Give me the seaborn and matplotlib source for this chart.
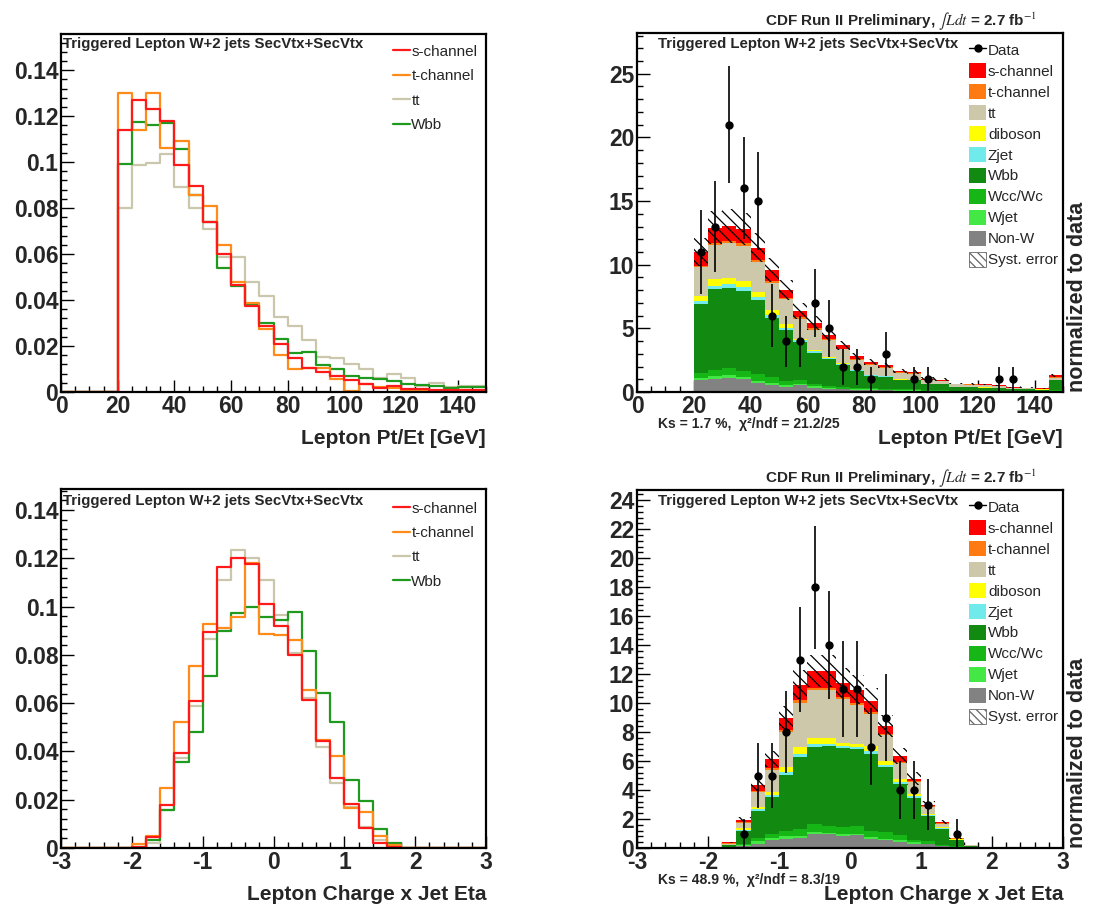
"""
Lepton Pt/Et and Lepton Charge x Jet Eta: shapes (left) and stacked
prediction vs data (right), CDF W+2 jets double-tag sample.
"""

import numpy as np
import pandas as pd
import seaborn as sns
import matplotlib.pyplot as plt
from matplotlib.lines import Line2D
from matplotlib.patches import Patch
from matplotlib.ticker import MultipleLocator, FuncFormatter

OUTPUT_PNG = "out.png"

# ---------------------------
# Shape templates, Lepton Pt/Et (5 GeV bins, 0-150)
# ---------------------------
pt_edges = np.arange(0, 151, 5)
pt_schan = [0, 0, 0, 0, 0.114, 0.127, 0.123, 0.118, 0.0987, 0.0898, 0.0738, 0.0601,
            0.0467, 0.0373, 0.0289, 0.0207, 0.0148, 0.0106, 0.0087, 0.0071, 0.0054,
            0.0036, 0.0016, 0.0025, 0.0015, 0.0013, 0.0009, 0.0009, 0.0007, 0.0009]
pt_tchan = [0, 0, 0, 0, 0.130, 0.114, 0.130, 0.106, 0.109, 0.0857, 0.081, 0.064,
            0.048, 0.0387, 0.0276, 0.016, 0.0099, 0.0104, 0.0106, 0.0058, 0.0004,
            0.0033, 0.0022, 0.0017, 0.001, 0.001, 0.0004, 0.0004, 0.0007, 0.0004]
pt_tt = [0, 0, 0, 0, 0.080, 0.0988, 0.0994, 0.1034, 0.0892, 0.080, 0.0708, 0.0588,
         0.0588, 0.0477, 0.0419, 0.0325, 0.0287, 0.0225, 0.0154, 0.0148, 0.0123,
         0.0102, 0.0062, 0.0077, 0.0062, 0.0028, 0.0041, 0.0023, 0.0025, 0.0028]
pt_wbb = [0, 0, 0, 0, 0.0992, 0.1175, 0.1163, 0.117, 0.1056, 0.0857, 0.0738, 0.0541,
          0.0463, 0.0377, 0.0302, 0.0231, 0.0168, 0.0176, 0.0119, 0.0099, 0.007,
          0.0059, 0.0055, 0.0048, 0.0033, 0.0029, 0.0026, 0.0019, 0.002, 0.0022]

# ---------------------------
# Shape templates, Lepton Charge x Jet Eta (0.2 bins, -3..3)
# ---------------------------
eta_edges = np.linspace(-3, 3, 31)
eta_schan = [0, 0, 0, 0, 0, 0.0005, 0.0046, 0.0177, 0.0395, 0.061, 0.0893, 0.1166,
             0.120, 0.1177, 0.101, 0.0918, 0.080, 0.0612, 0.0445, 0.029, 0.0184,
             0.0083, 0.0022, 0.0006, 0, 0, 0, 0, 0, 0]
eta_tchan = [0, 0, 0, 0, 0, 0.0015, 0.0048, 0.0249, 0.0522, 0.0752, 0.0927, 0.091,
             0.0958, 0.1182, 0.0886, 0.0882, 0.086, 0.0654, 0.0446, 0.038, 0.0164,
             0.0151, 0.005, 0.0011, 0, 0, 0, 0, 0, 0]
eta_tt = [0, 0, 0, 0, 0, 0.0004, 0.0022, 0.0156, 0.0375, 0.059, 0.0867, 0.111,
          0.1234, 0.120, 0.111, 0.0966, 0.0806, 0.0623, 0.0419, 0.0269, 0.017,
          0.0087, 0.0032, 0.0008, 0, 0, 0, 0, 0, 0]
eta_wbb = [0, 0, 0, 0, 0, 0, 0.0032, 0.0159, 0.0355, 0.048, 0.0713, 0.0898,
           0.0973, 0.100, 0.0955, 0.0943, 0.0977, 0.0817, 0.0643, 0.0521, 0.0281,
           0.0196, 0.0079, 0.0021, 0, 0, 0, 0, 0, 0]

# ---------------------------
# Stacked prediction, Lepton Pt/Et (5 GeV bins, 20-150)
# ---------------------------
pt_stack_edges = np.arange(20, 151, 5)
pt_nonw = [0.92, 1.00, 1.10, 1.00, 0.68, 0.58, 0.39, 0.52, 0.34, 0.24, 0.21, 0.18, 0.16,
           0.13, 0.10, 0.10, 0.07, 0.06, 0.04, 0.04, 0.03, 0.03, 0.02, 0.02, 0.02, 0.06]
pt_wjet = [0.18, 0.23, 0.21, 0.18, 0.21, 0.13, 0.13, 0.14, 0.11, 0.07, 0.05, 0.04, 0.04,
           0.03, 0.02, 0.02, 0.02, 0.02, 0.01, 0.01, 0.01, 0.01, 0.01, 0.01, 0.01, 0.02]
pt_wcc = [0.40, 0.47, 0.58, 0.45, 0.53, 0.47, 0.35, 0.31, 0.21, 0.16, 0.13, 0.12, 0.11,
          0.10, 0.08, 0.08, 0.06, 0.05, 0.04, 0.04, 0.03, 0.03, 0.02, 0.02, 0.02, 0.08]
pt_wbb_n = [5.40, 6.38, 6.31, 6.32, 5.79, 4.67, 3.98, 2.96, 2.44, 2.10, 1.76, 1.29, 0.95,
            0.92, 0.72, 0.72, 0.45, 0.47, 0.30, 0.30, 0.27, 0.24, 0.19, 0.17, 0.13, 0.76]
pt_zjet = [0.23, 0.26, 0.27, 0.26, 0.27, 0.18, 0.19, 0.14, 0.10, 0.11, 0.08, 0.07, 0.05,
           0.05, 0.04, 0.03, 0.02, 0.02, 0.01, 0.01, 0.01, 0.01, 0.01, 0.01, 0.01, 0.02]
pt_dib = [0.42, 0.53, 0.50, 0.50, 0.39, 0.40, 0.29, 0.10, 0.08, 0.10, 0.08, 0.06, 0.05,
          0.06, 0.06, 0.03, 0.02, 0.02, 0.01, 0.01, 0.01, 0.01, 0.01, 0.01, 0.01, 0.02]
pt_tt_n = [2.25, 2.67, 2.70, 2.75, 2.31, 2.15, 1.94, 1.60, 1.62, 1.29, 1.05, 0.78, 0.79,
           0.62, 0.50, 0.46, 0.28, 0.23, 0.19, 0.17, 0.16, 0.14, 0.08, 0.06, 0.05, 0.17]
pt_tch_n = [0.10, 0.19, 0.19, 0.21, 0.18, 0.13, 0.13, 0.13, 0.10, 0.07, 0.05, 0.06, 0.05,
            0.06, 0.04, 0.04, 0.03, 0.03, 0.02, 0.02, 0.02, 0.02, 0.01, 0.01, 0.01, 0.02]
pt_sch_n = [1.07, 1.17, 1.18, 1.13, 0.97, 0.86, 0.60, 0.47, 0.43, 0.32, 0.26, 0.21, 0.16,
            0.13, 0.09, 0.09, 0.10, 0.07, 0.04, 0.05, 0.06, 0.03, 0.04, 0.03, 0.03, 0.16]
pt_data = [11, 13, 21, 16, 15, 6, 4, 4, 7, 5, 2, 2, 1, 3, 0, 1, 1, 0, 0, 0, 0, 1, 1, 0, 0, 0]
pt_syst = 0.10

# ---------------------------
# Stacked prediction, Lepton Charge x Jet Eta (0.2 bins, -1.8..2.0)
# ---------------------------
eta_stack_edges = np.linspace(-1.8, 2.0, 20)
eta_nonw = [0.05, 0.14, 0.30, 0.58, 0.64, 0.71, 0.99, 0.94, 0.81, 0.87, 0.64, 0.53, 0.41,
            0.30, 0.25, 0.14, 0.05, 0.02, 0.01]
eta_wjet = [0.01, 0.04, 0.16, 0.11, 0.17, 0.12, 0.11, 0.12, 0.13, 0.12, 0.12, 0.11, 0.12,
            0.09, 0.05, 0.03, 0.02, 0.01, 0.0]
eta_wcc = [0.03, 0.12, 0.23, 0.30, 0.34, 0.50, 0.53, 0.46, 0.51, 0.51, 0.41, 0.46, 0.34,
           0.19, 0.16, 0.06, 0.05, 0.02, 0.0]
eta_wbb_n = [0.12, 0.87, 1.86, 2.53, 3.91, 4.95, 5.34, 5.50, 5.48, 5.36, 5.34, 4.49, 3.57,
             2.89, 1.73, 1.10, 0.41, 0.10, 0.02]
eta_zjet = [0.01, 0.10, 0.12, 0.16, 0.19, 0.23, 0.19, 0.14, 0.11, 0.11, 0.16, 0.16, 0.12,
            0.10, 0.06, 0.07, 0.03, 0.01, 0.0]
eta_dib = [0.01, 0.11, 0.16, 0.19, 0.34, 0.46, 0.43, 0.43, 0.23, 0.23, 0.35, 0.23, 0.18,
           0.13, 0.07, 0.05, 0.03, 0.01, 0.0]
eta_tt_n = [0.08, 0.37, 1.04, 1.54, 2.42, 3.06, 3.29, 3.29, 2.99, 2.69, 2.21, 1.80, 1.13,
            0.86, 0.51, 0.23, 0.05, 0.02, 0.01]
eta_tch_n = [0.02, 0.05, 0.06, 0.09, 0.11, 0.16, 0.19, 0.16, 0.16, 0.14, 0.16, 0.11, 0.07,
             0.06, 0.05, 0.05, 0.02, 0.01, 0.0]
eta_sch_n = [0.08, 0.16, 0.40, 0.67, 0.85, 1.08, 1.15, 1.18, 0.97, 0.90, 0.76, 0.51, 0.41,
             0.17, 0.11, 0.06, 0.04, 0.01, 0.0]
eta_data = [0, 1, 5, 5, 8, 13, 18, 14, 11, 11, 7, 9, 4, 4, 3, 0, 1, 0, 0]
eta_syst = 0.09

# ---------------------------
# Colours
# ---------------------------
LINE_COLORS = {"s-channel": "#ff1a1a", "t-channel": "#ff8c1a",
               "tt": "#cbc7ad", "Wbb": "#1f9a1f"}
STACK_COLORS = {"s-channel": "#ff0000", "t-channel": "#ff7a10", "tt": "#cdc8aa",
                "diboson": "#ffff00", "Zjet": "#70eaea", "Wbb": "#128a12",
                "Wcc/Wc": "#16b616", "Wjet": "#44e844", "Non-W": "#828282"}
# top of the stack first (seaborn stacks the last hue level at the bottom)
STACK_ORDER = ["s-channel", "t-channel", "tt", "diboson", "Zjet",
               "Wbb", "Wcc/Wc", "Wjet", "Non-W"]

TITLE = "Triggered Lepton W+2 jets SecVtx+SecVtx"
CDF = r"CDF Run II Preliminary, $\int\mathit{Ldt}$ = 2.7 fb$^{-1}$"

sns.set_theme(style="white")
plt.rcParams["font.family"] = ["Liberation Sans", "DejaVu Sans"]
plt.rcParams["mathtext.fontset"] = "stix"
plt.rcParams["hatch.linewidth"] = 0.9
plt.rcParams["hatch.color"] = "black"

fig = plt.figure(figsize=(10.94, 9.07), dpi=100)
ax_tl = fig.add_axes([0.0558, 0.5678, 0.3885, 0.3947])
ax_tr = fig.add_axes([0.5823, 0.5678, 0.3894, 0.3958])
ax_bl = fig.add_axes([0.0558, 0.0650, 0.3885, 0.3958])
ax_br = fig.add_axes([0.5823, 0.0650, 0.3894, 0.3947])

fmt = FuncFormatter(lambda v, p: "%g" % round(v, 6))


def style(ax, xlim, ylim, xmaj, xmin, ymaj, ymin, xlabel):
    ax.set_xlim(*xlim)
    ax.set_ylim(*ylim)
    ax.xaxis.set_major_locator(MultipleLocator(xmaj))
    ax.xaxis.set_minor_locator(MultipleLocator(xmin))
    ax.yaxis.set_major_locator(MultipleLocator(ymaj))
    ax.yaxis.set_minor_locator(MultipleLocator(ymin))
    ax.xaxis.set_major_formatter(fmt)
    ax.yaxis.set_major_formatter(fmt)
    ax.tick_params(which="both", direction="in", top=False, right=False,
                   bottom=True, left=True, color="black")
    ax.tick_params(which="major", length=9, width=1, labelsize=16.5, pad=2)
    ax.tick_params(which="minor", length=4.5, width=1)
    for lab in ax.get_xticklabels() + ax.get_yticklabels():
        lab.set_fontweight("bold")
    for sp in ax.spines.values():
        sp.set_color("black")
        sp.set_linewidth(1.6)
    ax.set_ylabel("")
    ax.set_xlabel(xlabel, loc="right", fontsize=15, fontweight="bold",
                  labelpad=8)


def shapes(ax, edges, curves, leg_top):
    centers = 0.5 * (edges[:-1] + edges[1:])
    for name in ["tt", "Wbb", "t-channel", "s-channel"]:
        d = pd.DataFrame({"x": centers, "w": curves[name]})
        sns.histplot(data=d, x="x", weights="w", bins=list(edges), element="step",
                     fill=False, color=LINE_COLORS[name], linewidth=1.6, ax=ax)
    ax.text(0.005, leg_top - 0.008, TITLE, transform=ax.transAxes, fontsize=10.8,
            fontweight="bold", va="center", ha="left")
    handles = [Line2D([0], [0], color=LINE_COLORS[n], lw=1.6)
               for n in ["s-channel", "t-channel", "tt", "Wbb"]]
    ax.legend(handles, ["s-channel", "t-channel", "tt", "Wbb"], loc="upper left",
              bbox_to_anchor=(0.781, leg_top - 0.01), frameon=False, fontsize=11,
              handlelength=1.1, handletextpad=0.1, labelspacing=0.68,
              borderaxespad=0, borderpad=0)


def stack(ax, edges, comps, data, syst, ks_text):
    centers = 0.5 * (edges[:-1] + edges[1:])
    width = edges[1] - edges[0]
    df = pd.DataFrame({
        "x": np.tile(centers, len(STACK_ORDER)),
        "w": np.concatenate([comps[n] for n in STACK_ORDER]),
        "process": np.repeat(STACK_ORDER, len(centers)),
    })
    sns.histplot(data=df, x="x", weights="w", hue="process", hue_order=STACK_ORDER,
                 palette=STACK_COLORS, multiple="stack", bins=list(edges),
                 element="step", fill=True, alpha=1, linewidth=0, legend=False, ax=ax)
    total = np.sum([comps[n] for n in STACK_ORDER], axis=0)
    ax.bar(centers, 2 * syst * total, width=width, bottom=total * (1 - syst),
           fill=False, hatch="\\\\\\", edgecolor="black", linewidth=0, zorder=3)
    data = np.asarray(data, dtype=float)
    m = data > 0
    ax.errorbar(centers[m], data[m], yerr=np.sqrt(data[m]), fmt="o", color="black",
                ms=5, elinewidth=1.2, capsize=0, zorder=4)

    ax.text(0.049, 0.969, TITLE, transform=ax.transAxes, fontsize=10.8,
            fontweight="bold", va="center", ha="left")
    ax.text(0.939, 1.03, CDF, transform=ax.transAxes, fontsize=11,
            fontweight="bold", va="center", ha="right")
    ax.text(0.049, -0.09, ks_text, transform=ax.transAxes, fontsize=10,
            fontweight="bold", va="center", ha="left")
    ax.text(1.035, 0.0, "normalized to data", transform=ax.transAxes, rotation=90,
            fontsize=15.5, fontweight="bold", va="bottom", ha="center")

    legend_names = ["s-channel", "t-channel", "tt", "diboson", "Zjet",
                    "Wbb", "Wcc/Wc", "Wjet", "Non-W"]
    handles = [Line2D([0], [0], color="black", marker="o", ms=5, lw=1)]
    handles += [Patch(facecolor=STACK_COLORS[n], edgecolor="none") for n in legend_names]
    handles += [Patch(facecolor="white", edgecolor="#666666", hatch="\\\\\\\\", lw=0.6)]
    labels = ["Data"] + legend_names + ["Syst. error"]
    ax.legend(handles, labels, loc="upper left", bbox_to_anchor=(0.779, 0.975),
              frameon=False, fontsize=11, handlelength=1.15, handleheight=1.15,
              handletextpad=0.1, labelspacing=0.34, borderaxespad=0, borderpad=0)


# ---------------------------
# Left: normalised shapes
# ---------------------------
shapes(ax_tl, pt_edges, {"s-channel": pt_schan, "t-channel": pt_tchan,
                         "tt": pt_tt, "Wbb": pt_wbb}, 0.98)
style(ax_tl, (0, 150), (0, 0.1557), 20, 5, 0.02, 0.004, "Lepton Pt/Et [GeV]")

shapes(ax_bl, eta_edges, {"s-channel": eta_schan, "t-channel": eta_tchan,
                          "tt": eta_tt, "Wbb": eta_wbb}, 0.975)
style(ax_bl, (-3, 3), (0, 0.1487), 1, 0.2, 0.02, 0.004, "Lepton Charge x Jet Eta")

# ---------------------------
# Right: stacked prediction vs data
# ---------------------------
stack(ax_tr, pt_stack_edges,
      {"Non-W": pt_nonw, "Wjet": pt_wjet, "Wcc/Wc": pt_wcc, "Wbb": pt_wbb_n,
       "Zjet": pt_zjet, "diboson": pt_dib, "tt": pt_tt_n, "t-channel": pt_tch_n,
       "s-channel": pt_sch_n},
      pt_data, pt_syst, "Ks = 1.7 %,  χ²/ndf = 21.2/25")
style(ax_tr, (0, 150), (0, 28.2), 20, 5, 5, 1, "Lepton Pt/Et [GeV]")

stack(ax_br, eta_stack_edges,
      {"Non-W": eta_nonw, "Wjet": eta_wjet, "Wcc/Wc": eta_wcc, "Wbb": eta_wbb_n,
       "Zjet": eta_zjet, "diboson": eta_dib, "tt": eta_tt_n, "t-channel": eta_tch_n,
       "s-channel": eta_sch_n},
      eta_data, eta_syst, "Ks = 48.9 %,  χ²/ndf = 8.3/19")
style(ax_br, (-3, 3), (0, 24.7), 1, 0.2, 2, 0.4, "Lepton Charge x Jet Eta")

fig.savefig(OUTPUT_PNG, dpi=100)
print(f"saved {OUTPUT_PNG}")
